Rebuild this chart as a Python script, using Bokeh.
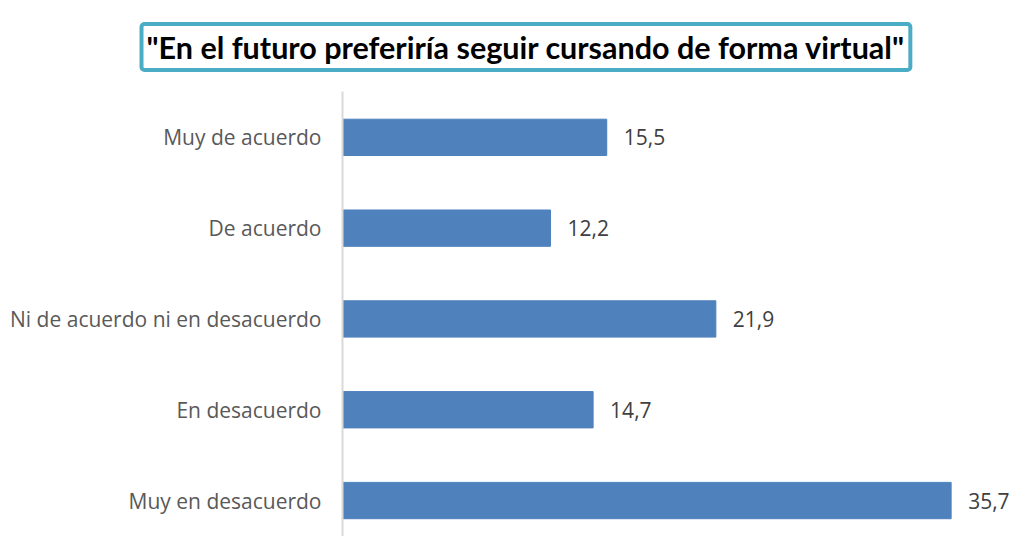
from bokeh.plotting import figure
from bokeh.models import Range1d, ColumnDataSource, FixedTicker
from bokeh.core.properties import value
from bokeh.embed import file_html
from bokeh.resources import INLINE

categories = ["Muy de acuerdo", "De acuerdo", "Ni de acuerdo ni en desacuerdo",
              "En desacuerdo", "Muy en desacuerdo"]
values = [15.5, 12.2, 21.9, 14.7, 35.7]
value_labels = ["15,5", "12,2", "21,9", "14,7", "35,7"]
title_text = '"En el futuro preferiría seguir cursando de forma virtual"'

pos = list(range(len(categories)))
src = ColumnDataSource(dict(y=pos, v=values, lab=value_labels))

p = figure(width=1012, height=536, output_backend="svg", toolbar_location=None,
           x_range=Range1d(0, 39.3), y_range=Range1d(4.396, -0.505),
           min_border_left=342, min_border_right=0, min_border_top=91,
           min_border_bottom=0)
p.xaxis.visible = False
p.grid.visible = False
p.outline_line_color = None
p.background_fill_color = "white"

ax = p.yaxis[0]
ax.ticker = FixedTicker(ticks=pos)
ax.major_label_overrides = {i: c for i, c in zip(pos, categories)}
ax.axis_line_color = "#D9D9D9"
ax.axis_line_width = 2
ax.major_tick_line_color = None
ax.minor_tick_line_color = None
ax.major_tick_out = 0
ax.major_tick_in = 0
ax.major_label_standoff = 21
ax.major_label_text_font = "Open Sans"
ax.major_label_text_font_size = "21px"
ax.major_label_text_color = "#595959"

p.hbar(y="y", left=0, right="v", height=0.4, source=src,
       fill_color="#4F81BD", line_color="#4F81BD")

p.text(x="v", y="y", text="lab", source=src, x_offset=17,
       text_align="left", text_baseline="middle",
       text_font=value("Open Sans"), text_font_size="21px", text_color="#404040")

p.title.text = title_text
p.title.align = "left"
p.title.offset = -201
p.title.text_font = "Lato"
p.title.text_font_style = "bold"
p.title.text_font_size = "30.5px"
p.title.text_color = "black"
p.title.border_line_color = "#4BACC6"
p.title.border_line_width = 4
p.title.border_radius = 3
p.title.background_fill_color = "white"
p.title.padding = 5
p.title.standoff = 43

open("out.html", "w").write(file_html(p, INLINE))
